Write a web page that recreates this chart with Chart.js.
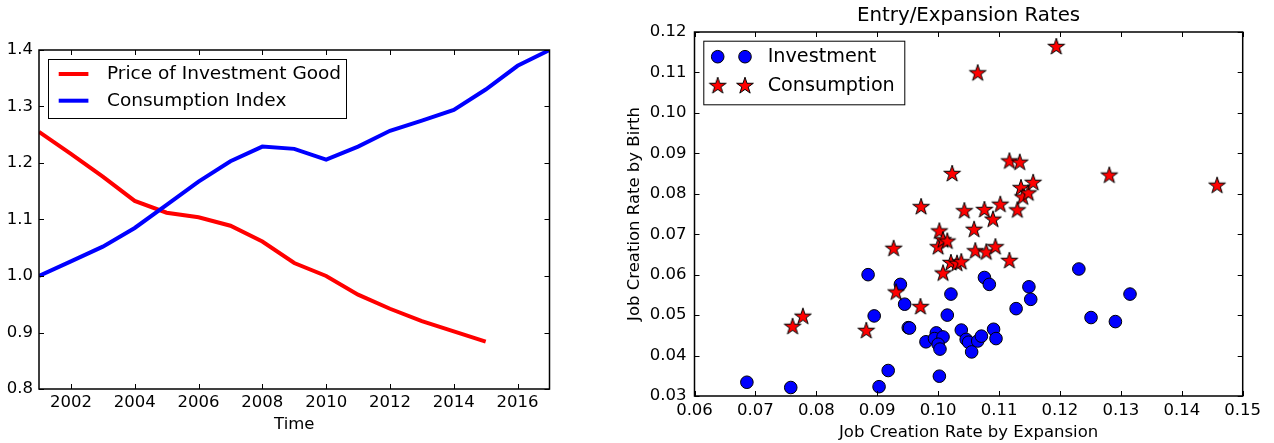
<!DOCTYPE html>
<html>
<head>
<meta charset="utf-8">
<script src="https://cdn.jsdelivr.net/npm/chart.js@4.4.0/dist/chart.umd.min.js"></script>
<style>
  html, body { margin: 0; padding: 0; background: #fff; }
  #wrap { position: relative; width: 1274px; height: 443px; overflow: hidden; }
  #left { position: absolute; left: 0; top: 0; }
  #right { position: absolute; left: 600px; top: 0; }
</style>
</head>
<body>
<div id="wrap">
  <canvas id="left" width="600" height="443"></canvas>
  <canvas id="right" width="674" height="443"></canvas>
</div>
<script>
// left panel: index series by year
const years = [2001, 2002, 2003, 2004, 2005, 2006, 2007, 2008, 2009, 2010, 2011, 2012, 2013, 2014, 2015, 2016, 2017];
const priceInvestment = [1.255, 1.216, 1.176, 1.133, 1.112, 1.104, 1.089, 1.061, 1.023, 1.000, 0.967, 0.942, 0.920, 0.902, 0.884];
const consumptionIndex = [1.000, 1.026, 1.052, 1.085, 1.126, 1.167, 1.203, 1.229, 1.225, 1.206, 1.229, 1.257, 1.275, 1.294, 1.330, 1.372, 1.400];
const leftXTicks = [2002, 2004, 2006, 2008, 2010, 2012, 2014, 2016];
const leftYTicks = [0.8, 0.9, 1.0, 1.1, 1.2, 1.3, 1.4];

// right panel: job creation rates
const investX = [0.0686, 0.0758, 0.0885, 0.0895, 0.0903, 0.0918, 0.0938, 0.0945, 0.0951, 0.0953,
  0.0980, 0.0997, 0.0994, 0.1008, 0.1000, 0.1003, 0.1002, 0.1021, 0.1015, 0.1038,
  0.1046, 0.1050, 0.1055, 0.1065, 0.1071, 0.1076, 0.1084, 0.1091, 0.1095, 0.1128,
  0.1149, 0.1152, 0.1231, 0.1251, 0.1291, 0.1315];
const investY = [0.0334, 0.0321, 0.0600, 0.0498, 0.0323, 0.0363, 0.0576, 0.0527, 0.0469, 0.0468,
  0.0434, 0.0456, 0.0442, 0.0446, 0.0428, 0.0416, 0.0349, 0.0552, 0.0500, 0.0463,
  0.0440, 0.0433, 0.0409, 0.0436, 0.0448, 0.0593, 0.0576, 0.0465, 0.0442, 0.0516,
  0.0570, 0.0539, 0.0614, 0.0494, 0.0484, 0.0552];
const consX = [0.0761, 0.0778, 0.0882, 0.0927, 0.0931, 0.0971, 0.0972, 0.1000, 0.1002, 0.1008,
  0.1008, 0.1015, 0.1021, 0.1023, 0.1031, 0.1038, 0.1043, 0.1059, 0.1061, 0.1065,
  0.1076, 0.1079, 0.1090, 0.1094, 0.1102, 0.1117, 0.1117, 0.1130, 0.1134, 0.1136,
  0.1139, 0.1148, 0.1156, 0.1194, 0.1281, 0.1458];
const consY = [0.0471, 0.0496, 0.0461, 0.0664, 0.0556, 0.0520, 0.0767, 0.0668, 0.0707, 0.0685,
  0.0603, 0.0682, 0.0629, 0.0849, 0.0627, 0.0631, 0.0757, 0.0711, 0.0658, 0.1098,
  0.0760, 0.0655, 0.0736, 0.0668, 0.0773, 0.0880, 0.0634, 0.0759, 0.0877, 0.0814,
  0.0791, 0.0801, 0.0827, 0.1163, 0.0845, 0.0820];
const rightXTicks = [0.06, 0.07, 0.08, 0.09, 0.10, 0.11, 0.12, 0.13, 0.14, 0.15];
const rightYTicks = [0.03, 0.04, 0.05, 0.06, 0.07, 0.08, 0.09, 0.10, 0.11, 0.12];

Chart.defaults.font.family = "'DejaVu Sans', sans-serif";
Chart.defaults.color = '#000';

// filled five-point star like matplotlib's '*' marker
function makeStar(R) {
  const c = document.createElement('canvas');
  const s = Math.ceil(R * 2 + 4);
  c.width = s; c.height = s;
  const g = c.getContext('2d');
  const cx = s / 2, cy = s / 2, r = R * 0.382;
  g.beginPath();
  for (let i = 0; i < 10; i++) {
    const rad = i % 2 === 0 ? R : r;
    const ang = -Math.PI / 2 + i * Math.PI / 5;
    const px = cx + rad * Math.cos(ang), py = cy + rad * Math.sin(ang);
    if (i === 0) g.moveTo(px, py); else g.lineTo(px, py);
  }
  g.closePath();
  g.fillStyle = '#ff0000';
  g.fill();
  g.lineWidth = 1;
  g.strokeStyle = '#000';
  g.stroke();
  return c;
}
const starImg = makeStar(8.8);

const fixedTicks = (arr) => (scale) => { scale.ticks = arr.map(v => ({ value: v })); };

// frame, inward ticks, legend box and title, matplotlib classic look
const mplFrame = {
  id: 'mplFrame',
  afterDatasetsDraw(chart) {
    const { ctx, chartArea: a, scales } = chart;
    const tl = 5;
    ctx.save();
    ctx.strokeStyle = '#000';
    ctx.lineWidth = 1;
    ctx.beginPath();
    scales.x.ticks.forEach(t => {
      const px = Math.round(scales.x.getPixelForValue(t.value)) + 0.5;
      ctx.moveTo(px, a.bottom); ctx.lineTo(px, a.bottom - tl);
      ctx.moveTo(px, a.top); ctx.lineTo(px, a.top + tl);
    });
    scales.y.ticks.forEach(t => {
      const py = Math.round(scales.y.getPixelForValue(t.value)) + 0.5;
      ctx.moveTo(a.left, py); ctx.lineTo(a.left + tl, py);
      ctx.moveTo(a.right, py); ctx.lineTo(a.right - tl, py);
    });
    ctx.stroke();
    ctx.lineWidth = 1.5;
    ctx.strokeRect(a.left, a.top, a.right - a.left, a.bottom - a.top);
    ctx.restore();
  },
  afterDraw(chart, args, opts) {
    const { ctx, chartArea: a } = chart;
    ctx.save();
    if (opts.title) {
      ctx.font = "19.8px 'DejaVu Sans'";
      ctx.fillStyle = '#000';
      ctx.textAlign = 'center';
      ctx.textBaseline = 'middle';
      ctx.fillText(opts.title, (a.left + a.right) / 2, opts.titleY);
    }
    const lg = opts.legend;
    if (lg) {
      ctx.fillStyle = '#fff';
      ctx.fillRect(lg.x, lg.y, lg.w, lg.h);
      ctx.strokeStyle = '#000';
      ctx.lineWidth = 1;
      ctx.strokeRect(lg.x + 0.5, lg.y + 0.5, lg.w, lg.h);
      ctx.font = lg.font;
      ctx.textAlign = 'left';
      ctx.textBaseline = 'middle';
      chart.data.datasets.forEach((ds, i) => {
        const y = lg.rows[i];
        if (chart.config.type === 'line') {
          ctx.strokeStyle = ds.borderColor;
          ctx.lineWidth = ds.borderWidth;
          ctx.beginPath();
          ctx.moveTo(lg.sx[0], y); ctx.lineTo(lg.sx[1], y);
          ctx.stroke();
        } else {
          lg.sx.forEach(mx => {
            if (ds.pointStyle === 'circle') {
              ctx.beginPath();
              ctx.arc(mx, y, ds.pointRadius, 0, Math.PI * 2);
              ctx.fillStyle = ds.backgroundColor;
              ctx.fill();
              ctx.strokeStyle = '#000';
              ctx.lineWidth = 1;
              ctx.stroke();
            } else {
              ctx.drawImage(ds.pointStyle, mx - ds.pointStyle.width / 2, y - ds.pointStyle.height / 2);
            }
          });
        }
        ctx.fillStyle = '#000';
        ctx.fillText(ds.label, lg.tx, y);
      });
    }
    ctx.restore();
  }
};

const tickFont = { size: 16.5 };
const titleFont = { size: 16.5 };
const noGrid = { display: false, drawTicks: false, tickLength: 0 };

new Chart(document.getElementById('left'), {
  type: 'line',
  data: {
    datasets: [{
      label: 'Price of Investment Good',
      data: priceInvestment.map((v, i) => ({ x: years[i], y: v })),
      borderColor: '#ff0000',
      borderWidth: 4,
      pointRadius: 0,
      tension: 0,
      order: 1
    }, {
      label: 'Consumption Index',
      data: consumptionIndex.map((v, i) => ({ x: years[i], y: v })),
      borderColor: '#0000ff',
      borderWidth: 4,
      pointRadius: 0,
      tension: 0,
      order: 0
    }]
  },
  options: {
    responsive: false,
    animation: false,
    layout: { padding: { top: 50, right: 50.5, left: 0, bottom: 0 } },
    scales: {
      x: {
        type: 'linear', min: 2001, max: 2017,
        afterBuildTicks: fixedTicks(leftXTicks),
        afterFit: (s) => { s.height = 54; },
        grid: noGrid, border: { display: false },
        ticks: { font: tickFont, padding: 4, maxRotation: 0, callback: (v) => String(v) },
        title: { display: true, text: 'Time', font: titleFont, padding: { top: 0, bottom: 8 } }
      },
      y: {
        min: 0.8, max: 1.4,
        afterBuildTicks: fixedTicks(leftYTicks),
        afterFit: (s) => { s.width = 39; },
        grid: noGrid, border: { display: false },
        ticks: { font: tickFont, padding: 6, callback: (v) => v.toFixed(1) }
      }
    },
    plugins: {
      legend: { display: false },
      tooltip: { enabled: false },
      mplFrame: {
        legend: { x: 48, y: 59, w: 298, h: 59, rows: [74, 100.7], sx: [58.7, 88.4], tx: 107, font: "18.5px 'DejaVu Sans'" }
      }
    }
  },
  plugins: [mplFrame]
});

new Chart(document.getElementById('right'), {
  type: 'scatter',
  data: {
    datasets: [{
      label: 'Investment',
      data: investX.map((v, i) => ({ x: v, y: investY[i] })),
      pointStyle: 'circle',
      pointRadius: 6.3,
      backgroundColor: '#0000ff',
      borderColor: '#000',
      borderWidth: 1,
      order: 1
    }, {
      label: 'Consumption',
      data: consX.map((v, i) => ({ x: v, y: consY[i] })),
      pointStyle: starImg,
      pointRadius: 9,
      backgroundColor: '#ff0000',
      borderColor: '#000',
      order: 0
    }]
  },
  options: {
    responsive: false,
    animation: false,
    layout: { padding: { top: 32, right: 31.3, left: 0, bottom: 0 } },
    scales: {
      x: {
        type: 'linear', min: 0.06, max: 0.15,
        afterBuildTicks: fixedTicks(rightXTicks),
        afterFit: (s) => { s.height = 47; },
        grid: noGrid, border: { display: false },
        ticks: { font: tickFont, padding: 5, maxRotation: 0, callback: (v) => v.toFixed(2) },
        title: { display: true, text: 'Job Creation Rate by Expansion', font: titleFont, padding: { top: 0, bottom: 0 } }
      },
      y: {
        min: 0.03, max: 0.12,
        afterBuildTicks: fixedTicks(rightYTicks),
        afterFit: (s) => { s.width = 94.5; },
        grid: noGrid, border: { display: false },
        ticks: { font: tickFont, padding: 8, callback: (v) => v.toFixed(2) },
        title: { display: true, text: 'Job Creation Rate by Birth', font: titleFont, padding: { top: 25, bottom: 0 } }
      }
    },
    plugins: {
      legend: { display: false },
      tooltip: { enabled: false },
      mplFrame: {
        title: 'Entry/Expansion Rates',
        titleY: 16,
        legend: { x: 103.3, y: 40.7, w: 201, h: 63.6, rows: [56.7, 86], sx: [117.7, 145], tx: 167.7, font: "19.2px 'DejaVu Sans'" }
      }
    }
  },
  plugins: [mplFrame]
});
</script>
</body>
</html>
